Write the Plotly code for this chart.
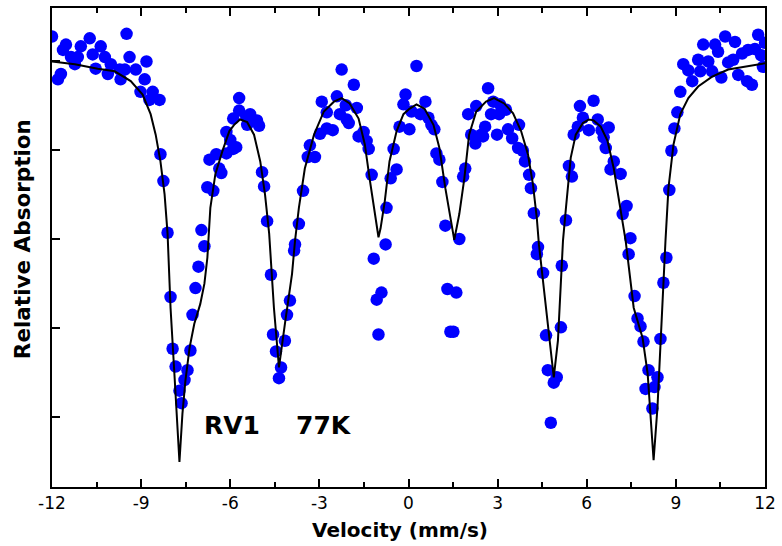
import plotly.graph_objects as go

# ---- measured spectrum (velocity mm/s, relative transmission %) ----
vel = [
    -12.00, -11.80, -11.70, -11.63, -11.53, -11.36, -11.23, -11.13, -11.03, -10.73,
    -10.63, -10.53, -10.36, -10.22, -10.12, -10.02, -9.72, -9.69, -9.55, -9.49,
    -9.39, -9.18, -9.02, -8.88, -8.82, -8.72, -8.61, -8.38, -8.35, -8.25,
    -8.11, -8.01, -7.94, -7.84, -7.71, -7.64, -7.54, -7.44, -7.34, -7.27,
    -7.17, -7.07, -6.97, -6.87, -6.77, -6.70, -6.57, -6.47, -6.37, -6.30,
    -6.13, -6.13, -6.00, -5.90, -5.80, -5.90, -5.70, -5.70, -5.46, -5.33,
    -5.43, -5.10, -5.03, -4.93, -4.86, -4.76, -4.63, -4.56, -4.46, -4.36,
    -4.29, -4.16, -4.09, -3.99, -3.85, -3.82, -3.69, -3.55, -3.39, -3.15,
    -3.32, -2.98, -2.92, -2.75, -2.75, -2.55, -2.41, -2.25, -2.31, -2.08,
    -2.11, -2.01, -1.84, -1.74, -1.68, -1.51, -1.41, -1.34, -1.24, -1.17,
    -1.07, -0.91, -1.01, -0.74, -0.77, -0.60, -0.40, -0.50, -0.30, -0.17,
    -0.10, 0.03, 0.27, 0.10, 0.40, 0.57, 0.67, 0.77, 0.87, 0.94,
    1.04, 1.14, 1.24, 1.31, 1.61, 1.41, 1.51, 1.71, 1.84, 1.91,
    2.01, 2.11, 2.25, 2.28, 2.45, 2.51, 2.58, 2.68, 2.85, 2.78,
    3.05, 3.08, 2.98, 3.28, 3.35, 3.49, 3.72, 3.69, 3.85, 3.92,
    4.06, 4.12, 4.22, 4.36, 4.32, 4.53, 4.63, 4.69, 4.89, 4.99,
    4.79, 5.13, 5.16, 5.30, 5.40, 5.50, 5.56, 5.70, 5.77, 5.87,
    6.07, 6.23, 6.37, 6.50, 6.57, 6.74, 6.64, 6.91, 6.80, 7.14,
    7.34, 7.21, 7.47, 7.41, 7.61, 7.71, 7.81, 7.91, 8.08, 8.38,
    7.98, 8.28, 8.21, 8.48, 8.58, 8.68, 8.78, 8.85, 8.95, 9.05,
    9.15, 9.25, 9.42, 9.55, 9.75, 9.82, 9.92, 10.09, 10.22, 10.32,
    10.42, 10.53, 10.66, 10.76, 10.93, 10.99, 11.10, 11.23, 11.40, 11.56,
    11.43, 11.66, 11.77, 11.87, 11.93, 12.00,
]
trans = [
    100.27, 99.79, 99.85, 100.12, 100.18, 100.04, 99.96, 100.04, 100.16, 100.25,
    100.07, 99.91, 100.16, 100.04, 99.85, 99.96, 99.90, 99.79, 99.90, 100.30,
    100.04, 99.90, 99.65, 99.79, 99.99, 99.56, 99.65, 99.56, 98.95, 98.65,
    98.07, 97.35, 96.77, 96.57, 96.30, 96.16, 96.42, 96.53, 96.75, 97.15,
    97.45, 97.69, 98.10, 97.92, 98.58, 98.89, 98.54, 98.95, 98.79, 98.74,
    98.96, 99.20, 99.11, 99.01, 99.03, 99.35, 99.44, 99.58, 99.37, 99.40,
    99.28, 99.33, 99.27, 98.75, 98.59, 98.20, 97.60, 96.93, 96.74, 96.44,
    96.56, 96.86, 97.15, 97.31, 97.87, 97.94, 98.17, 98.54, 98.92, 98.92,
    99.05, 99.18, 99.54, 99.42, 99.24, 99.22, 99.60, 99.90, 99.40, 99.34,
    99.50, 99.30, 99.73, 99.47, 99.15, 99.20, 99.10, 99.01, 98.72, 97.78,
    97.32, 97.40, 96.93, 98.35, 97.94, 98.68, 98.78, 99.01, 99.26, 99.51,
    99.62, 99.23, 99.94, 99.43, 99.40, 99.54, 99.36, 99.28, 99.23, 98.96,
    98.89, 98.64, 98.15, 97.44, 97.40, 96.96, 96.96, 98.00, 98.70, 98.79,
    99.40, 99.17, 99.07, 99.49, 99.17, 99.15, 99.26, 99.69, 99.54, 99.40,
    99.40, 99.51, 99.17, 99.45, 99.23, 99.13, 99.28, 99.02, 98.99, 98.87,
    98.72, 98.57, 98.29, 97.91, 97.83, 97.62, 96.92, 96.53, 96.39, 96.45,
    95.94, 97.01, 97.70, 98.21, 98.82, 98.70, 99.17, 99.26, 99.49, 99.36,
    99.22, 99.55, 99.34, 99.22, 99.14, 99.25, 99.02, 98.87, 98.78, 98.73,
    98.37, 98.28, 98.01, 97.83, 97.36, 97.11, 97.02, 96.85, 96.53, 96.45,
    96.32, 96.34, 96.10, 96.88, 97.51, 97.79, 98.55, 98.99, 99.24, 99.42,
    99.65, 99.96, 99.89, 99.77, 100.01, 99.88, 100.18, 99.99, 99.88, 100.18,
    100.10, 99.81, 100.27, 99.98, 100.01, 100.21, 99.84, 100.08, 99.77, 99.73,
    100.12, 100.13, 100.29, 100.06, 99.93, 100.20,
]

# ---- fitted curve ----
fit_vel = [
    -12.00, -11.23, -10.46, -9.89, -9.35, -8.95, -8.68, -8.51, -8.35, -8.21,
    -8.11, -8.01, -7.88, -7.71, -7.61, -7.51, -7.37, -7.21, -7.01, -6.87,
    -6.77, -6.67, -6.50, -6.27, -6.03, -5.87, -5.67, -5.43, -5.20, -4.99,
    -4.83, -4.69, -4.53, -4.36, -4.16, -3.92, -3.82, -3.69, -3.49, -3.18,
    -2.85, -2.51, -2.25, -1.98, -1.68, -1.47, -1.31, -1.14, -1.01, -0.94,
    -0.80, -0.64, -0.40, -0.17, 0.03, 0.27, 0.54, 0.84, 1.04, 1.24,
    1.44, 1.54, 1.71, 1.88, 2.04, 2.28, 2.61, 2.88, 3.22, 3.52,
    3.79, 4.02, 4.19, 4.32, 4.39, 4.63, 4.89, 5.03, 5.20, 5.30,
    5.46, 5.63, 5.87, 6.07, 6.23, 6.47, 6.70, 6.91, 7.07, 7.24,
    7.31, 7.58, 7.88, 8.05, 8.25, 8.38, 8.48, 8.58, 8.65, 8.75,
    8.92, 9.15, 9.42, 9.75, 10.22, 10.76, 11.33, 12.00,
]
fit_trans = [
    99.99, 99.96, 99.91, 99.88, 99.77, 99.62, 99.40, 99.17, 98.87, 98.50,
    98.06, 97.23, 96.49, 95.50, 96.04, 96.41, 96.78, 97.05, 97.27, 97.50,
    97.79, 98.35, 98.73, 98.98, 99.21, 99.28, 99.34, 99.31, 99.17, 98.87,
    98.50, 98.06, 97.23, 96.56, 97.05, 97.61, 97.98, 98.35, 98.79, 99.17,
    99.43, 99.54, 99.58, 99.52, 99.35, 99.06, 98.68, 98.31, 98.02, 98.12,
    98.42, 98.87, 99.21, 99.40, 99.46, 99.51, 99.46, 99.28, 99.02, 98.57,
    98.17, 97.99, 98.28, 98.68, 99.17, 99.43, 99.54, 99.58, 99.52, 99.41,
    99.21, 98.95, 98.61, 98.23, 97.94, 97.23, 96.45, 96.86, 97.98, 98.35,
    98.91, 99.17, 99.30, 99.34, 99.33, 99.26, 99.10, 98.79, 98.46, 98.09,
    97.98, 97.23, 96.89, 96.49, 95.52, 96.11, 96.86, 97.53, 97.98, 98.57,
    99.06, 99.40, 99.58, 99.71, 99.82, 99.90, 99.93, 99.97,
]

x_tick_vals = [-12, -9, -6, -3, 0, 3, 6, 9, 12]
x_tick_text = ["-12", "-9", "-6", "-3", "0", "3", "6", "9", "12"]
x_minor_vals = [-10.5, -7.5, -4.5, -1.5, 1.5, 4.5, 7.5, 10.5]
y_tick_vals = [96, 97, 98, 99, 100]

fig = go.Figure()
fig.add_trace(go.Scatter(
    x=vel, y=trans, mode="markers",
    marker=dict(color="#0000FF", size=12.5, line=dict(width=0)),
    showlegend=False,
))
fig.add_trace(go.Scatter(
    x=fit_vel, y=fit_trans, mode="lines",
    line=dict(color="black", width=2),
    showlegend=False,
))

fig.update_layout(
    width=782, height=546,
    margin=dict(l=52, r=14, t=6, b=59),
    paper_bgcolor="white", plot_bgcolor="white",
    showlegend=False,
    xaxis=dict(
        range=[-12, 12], tickmode="array", tickvals=x_tick_vals, ticktext=x_tick_text,
        ticks="inside", ticklen=8, tickwidth=2, tickcolor="black",
        showline=True, linewidth=2, linecolor="black", mirror="ticks",
        showgrid=False, zeroline=False,
        tickfont=dict(family="DejaVu Sans", size=17, color="black"),
        minor=dict(tickvals=x_minor_vals, ticks="inside", ticklen=5, tickwidth=2,
                   tickcolor="black", showgrid=False),
    ),
    yaxis=dict(
        range=[95.22, 100.59], tickmode="array", tickvals=y_tick_vals,
        showticklabels=False,
        ticks="inside", ticklen=8, tickwidth=2, tickcolor="black",
        showline=True, linewidth=2, linecolor="black", mirror=True,
        showgrid=False, zeroline=False,
    ),
    annotations=[
        dict(text="<b>Velocity (mm/s)</b>", xref="paper", yref="paper",
             x=0.4874, y=-0.0894, xanchor="center", yanchor="middle",
             showarrow=False, font=dict(family="DejaVu Sans", size=20, color="black")),
        dict(text="<b>Relative Absorption</b>", xref="paper", yref="paper",
             x=-0.0419, y=0.5177, xanchor="center", yanchor="middle", textangle=-90,
             showarrow=False, font=dict(family="DejaVu Sans", size=21.5, color="black")),
        dict(text="<b>RV1</b>", xref="paper", yref="paper",
             x=0.2521, y=0.1274, xanchor="center", yanchor="middle",
             showarrow=False, font=dict(family="DejaVu Sans", size=25, color="black")),
        dict(text="<b>77K</b>", xref="paper", yref="paper",
             x=0.3820, y=0.1274, xanchor="center", yanchor="middle",
             showarrow=False, font=dict(family="DejaVu Sans", size=25, color="black")),
    ],
)

fig.write_html("out.html")
